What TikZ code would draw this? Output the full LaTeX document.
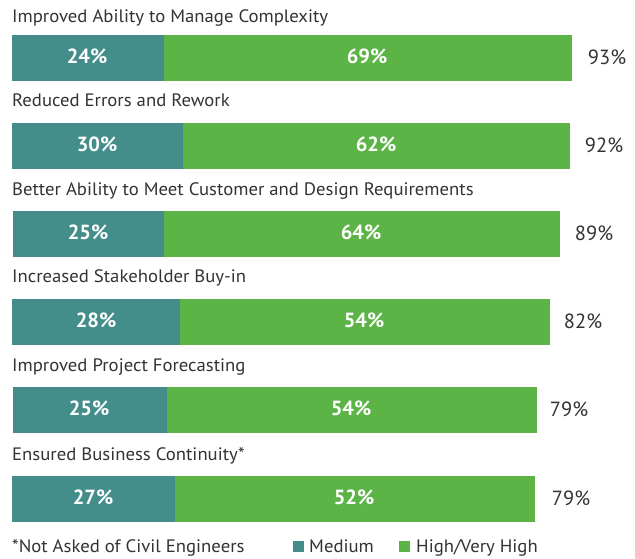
\documentclass[tikz,border=0pt]{standalone}
\usepackage{fontspec}
\setmainfont{PT Sans}
\newfontfamily\labfont[FakeStretch=1.04]{PT Sans}
\definecolor{medc}{HTML}{438E8B}
\definecolor{highc}{HTML}{5DB446}
\definecolor{txt}{HTML}{333333}
\begin{document}
\begin{tikzpicture}[x=1pt,y=-1pt,
  lab/.style={anchor=base west, inner sep=0, text=txt, font=\labfont\fontsize{18}{20}\selectfont},
  num/.style={anchor=base, inner sep=0, text=white, font=\bfseries\fontsize{20.5}{24}\selectfont},
  tot/.style={anchor=base, inner sep=0, text=txt, font=\fontsize{20.5}{24}\selectfont}]
\useasboundingbox[fill=white] (0,0) rectangle (635,558);
\foreach \i/\t/\xa/\xb/\xc/\na/\nb/\nt/\lb/\va/\vb/\vt/\txtl in {
 1/35/12/163.7/571.7/87/367/607/22/24/69/93/Improved Ability to Manage Complexity,
 2/123/12/182.7/570/97/376/604/106.7/30/62/92/Reduced Errors and Rework,
 3/211/13/163.7/560/88/361/594/195/25/64/89/Better Ability to Meet Customer and Design Requirements,
 4/299/12/180/550/96/364/583/282.7/28/54/82/Increased Stakeholder Buy-in,
 5/387/13/167/537/89/351/569/371/25/54/79/Improved Project Forecasting,
 6/476/12/175/535/93/354/571/460.7/27/52/79/Ensured Business Continuity*}
{
  \fill[medc] (\xa,\t) rectangle (\xb,\t+45.7);
  \fill[highc] (\xb,\t) rectangle (\xc,\t+45.7);
  \node[lab] (lab\i) at (12,\lb) {\txtl};
  \node[num] (med\i) at (\na,\t+28.3) {\va\%};
  \node[num] (high\i) at (\nb,\t+28.3) {\vb\%};
  \node[tot] (tot\i) at (\nt,\t+29) {\vt\%};
}
\node[lab] (note) at (12,552.7) {*Not Asked of Civil Engineers};
\fill[medc] (293,541) rectangle (304,552);
\node[lab] (legmed) at (309,552.7) {Medium};
\fill[highc] (399,541) rectangle (410,552);
\node[lab] (leghigh) at (416,552.7) {High/Very High};
\end{tikzpicture}
\end{document}
